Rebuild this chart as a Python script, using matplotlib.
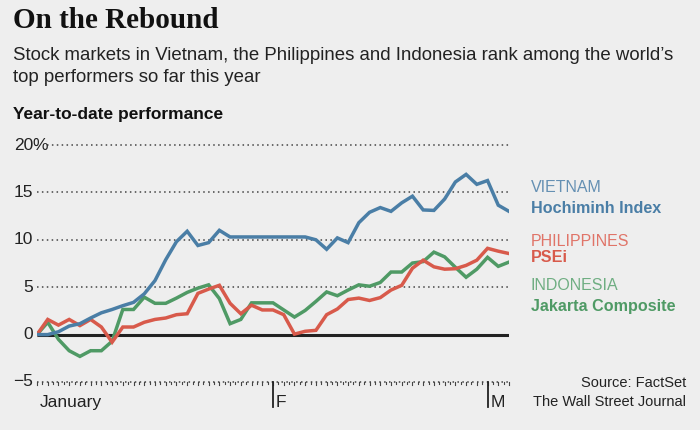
import matplotlib.pyplot as plt

# %% Dados (índice de pregão, desempenho acumulado em %)
dias = list(range(45))
vietnam = [0, 0, 0.3, 0.9, 1.15, 1.75, 2.3, 2.65, 3.05, 3.4,
           4.3, 5.7, 7.9, 9.8, 10.9, 9.4, 9.7, 11.0, 10.3, 10.3,
           10.3, 10.3, 10.3, 10.3, 10.3, 10.3, 10.0, 9.0, 10.2, 9.7,
           11.8, 12.9, 13.4, 13.0, 13.9, 14.6, 13.15, 13.1, 14.3, 16.1,
           16.9, 15.85, 16.25, 13.65, 13.0]
filipinas = [0, 1.6, 1.0, 1.6, 0.95, 1.6, 0.8, -0.8, 0.8, 0.8,
             1.3, 1.6, 1.75, 2.1, 2.2, 4.35, 4.8, 5.2, 3.3, 2.2,
             3.1, 2.6, 2.6, 2.1, 0.05, 0.35, 0.45, 2.1, 2.7, 3.7,
             3.85, 3.6, 3.9, 4.7, 5.2, 7.0, 7.85, 7.15, 6.9, 6.95,
             7.3, 7.85, 9.1, 8.8, 8.55]
indonesia = [0, 1.3, -0.5, -1.7, -2.3, -1.7, -1.7, -0.7, 2.65, 2.65,
             3.95, 3.3, 3.3, 3.85, 4.45, 4.9, 5.25, 3.8, 1.15, 1.6,
             3.35, 3.35, 3.35, 2.6, 1.85, 2.55, 3.5, 4.5, 4.1, 4.7,
             5.25, 5.1, 5.5, 6.6, 6.6, 7.55, 7.7, 8.7, 8.2, 7.1,
             6.05, 6.9, 8.15, 7.2, 7.65]
yticks = [-5, 0, 5, 10, 15, 20]
meses = ["January", "F", "M"]
meses_pos = [0, 22, 42]

# %% Cores
bg = "#eeeeee"
azul, vermelho, verde = "#4a7ea6", "#d85a4b", "#4f9a65"
plt.rcParams["font.family"] = ["Liberation Sans", "DejaVu Sans"]

fig = plt.figure(figsize=(7, 4.3), dpi=100, facecolor=bg)
ax = fig.add_axes([37/700, 1-382/430, 472/700, 237/430])
ax.set_facecolor(bg)
ax.set_xlim(0, 44)
ax.set_ylim(-5, 20)
for s in ax.spines.values():
    s.set_visible(False)
ax.set_xticks([])
ax.set_yticks([])

# grade pontilhada
for v in yticks:
    if v == 0:
        continue
    x0 = 0.022 if v == 20 else 0
    ax.axhline(v, xmin=x0, xmax=1, color="#444444", lw=1.1,
               ls=(0, (1, 2.2)), zorder=1, clip_on=False)
ax.axhline(0, color="#222222", lw=2.2, zorder=2)

# linhas
ax.plot(dias, indonesia, color=verde, lw=2.5, zorder=3, solid_joinstyle="miter")
ax.plot(dias, filipinas, color=vermelho, lw=2.5, zorder=4, solid_joinstyle="miter")
ax.plot(dias, vietnam, color=azul, lw=2.5, zorder=5, solid_joinstyle="miter")

# rótulos do eixo y
for v in yticks:
    ax.annotate(str(v).replace("-", "\u2212"), xy=(0, v), xytext=(-4, 0),
                textcoords="offset pixels", ha="right", va="center",
                fontsize=12.5, color="#222222", annotation_clip=False)
ax.annotate("%", xy=(0, 20), xytext=(-5, 0), textcoords="offset pixels",
            ha="left", va="center", fontsize=12.5, color="#222222", annotation_clip=False)

# marcas do eixo x
for d in dias:
    ax.plot([d, d], [-5, -5.35], color="#444444", lw=0.8, clip_on=False)
    if d < 44:
        ax.plot([d + 0.5, d + 0.5], [-5, -5.2], color="#444444", lw=0.8, clip_on=False)
for m, p in zip(meses, meses_pos):
    if p > 0:
        ax.plot([p, p], [-5, -7.6], color="#222222", lw=1.3, clip_on=False)
    ax.annotate(m, xy=(p, -7.6), xytext=(3, 0), textcoords="offset pixels",
                ha="left", va="baseline", fontsize=12.5, color="#222222",
                annotation_clip=False)

# títulos
fig.text(13/700, 1-21/430, "On the Rebound", fontsize=21, fontweight="bold",
         family=["Liberation Serif", "DejaVu Serif"], va="center", ha="left", color="#111111")
fig.text(13/700, 1-55/430, "Stock markets in Vietnam, the Philippines and Indonesia rank among the world\u2019s",
         fontsize=13.4, va="center", ha="left", color="#222222")
fig.text(13/700, 1-78/430, "top performers so far this year",
         fontsize=13.4, va="center", ha="left", color="#222222")
fig.text(13/700, 1-115/430, "Year-to-date performance", fontsize=12.5, fontweight="bold",
         va="center", ha="left", color="#111111")

# legenda
leg = [("VIETNAM", "normal", "#6590b3", 188), ("Hochiminh Index", "bold", azul, 209),
       ("PHILIPPINES", "normal", "#e07468", 241), ("PSEi", "bold", vermelho, 258),
       ("INDONESIA", "normal", "#6fae82", 285), ("Jakarta Composite", "bold", verde, 306)]
for txt, w, c, y in leg:
    fs = 11.6 if w == "bold" else 11.5
    fig.text(531/700, 1-y/430, txt, fontsize=fs, fontweight=w, color=c,
             va="center", ha="left")

fig.text(686/700, 1-383/430, "Source: FactSet", fontsize=10.5, ha="right", va="center", color="#222222")
fig.text(686/700, 1-402/430, "The Wall Street Journal", fontsize=10.5, ha="right", va="center", color="#222222")

plt.savefig("out.png", dpi=100, facecolor=bg)
